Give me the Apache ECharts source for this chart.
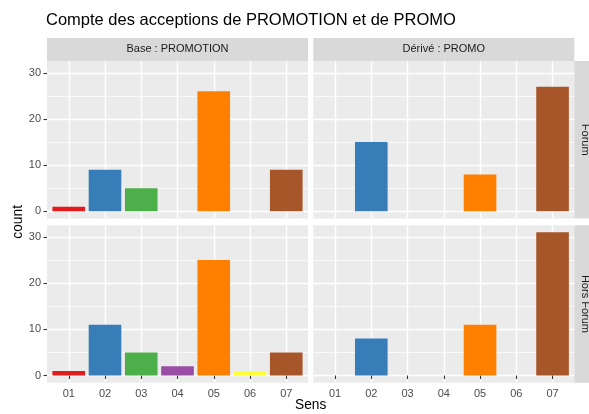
<!DOCTYPE html>
<html>
<head>
<meta charset="utf-8">
<script src="https://cdn.jsdelivr.net/npm/echarts@6/dist/echarts.min.js"></script>
<style>
  html, body { margin: 0; padding: 0; background: #fff; }
  #chart { width: 589px; height: 414px; }
</style>
</head>
<body>
<div id="chart"></div>
<script>
// data
var categories = ['01', '02', '03', '04', '05', '06', '07'];
var colTitles = ['Base : PROMOTION', 'Dérivé : PROMO'];
var rowTitles = ['Forum', 'Hors Forum'];
var baseForum = [1, 9, 5, null, 26, null, 9];
var deriveForum = [null, 15, null, null, 8, null, 27];
var baseHorsForum = [1, 11, 5, 2, 25, 1, 5];
var deriveHorsForum = [null, 8, null, null, 11, null, 31];
var yTicks = [0, 10, 20, 30];
var yMinor = [5, 15, 25];

// Set1 palette, one colour per sens
var palette = ['#E41A1C', '#377EB8', '#4DAF4A', '#984EA3', '#FF7F00', '#FFFF33', '#A65628'];

var FONT = 'Liberation Sans, Arial, sans-serif';

// layout (px)
var colLeft = [47, 313.3];
var panelW = 261;
var rowTop = [61, 225.2];
var panelH = 157.5;
var stripH = 23;
var stripTop = rowTop[0] - stripH;
var stripRightX = colLeft[1] + panelW;
var stripW = 23;

var panels = [
  { row: 0, col: 0, values: baseForum },
  { row: 0, col: 1, values: deriveForum },
  { row: 1, col: 0, values: baseHorsForum },
  { row: 1, col: 1, values: deriveHorsForum }
];

// ggplot style expansion
var allVals = [].concat(baseForum, deriveForum, baseHorsForum, deriveHorsForum).filter(function (v) { return v != null; });
var yMaxData = Math.max.apply(null, allVals);
var yPad = yMaxData * 0.05;
var yMin = -yPad, yMax = yMaxData + yPad;
var xMin = 1 - 0.6, xMax = categories.length + 0.6;

var grids = [], xAxes = [], yAxes = [], series = [];

panels.forEach(function (p, i) {
  grids.push({
    left: colLeft[p.col], top: rowTop[p.row], width: panelW, height: panelH,
    show: true, backgroundColor: '#EBEBEB', borderWidth: 0,
    outerBoundsMode: 'none', containLabel: false
  });

  var bottomRow = p.row === 1;
  xAxes.push({
    gridIndex: i, type: 'value', min: xMin, max: xMax, splitNumber: 7,
    axisLine: { show: false },
    axisTick: { show: bottomRow, length: 3.5, customValues: [1, 2, 3, 4, 5, 6, 7],
      lineStyle: { color: '#333333', width: 1.1 } },
    axisLabel: { show: bottomRow, customValues: [1, 2, 3, 4, 5, 6, 7], margin: 6,
      color: '#4D4D4D', fontSize: 11, fontFamily: FONT,
      formatter: function (v) { return Number.isInteger(v) ? categories[v - 1] : ''; } },
    splitLine: { show: true, lineStyle: { color: '#FFFFFF', width: 1.4 } }
  });

  var leftCol = p.col === 0;
  yAxes.push({
    gridIndex: i, type: 'value', min: yMin, max: yMax, splitNumber: 3,
    axisLine: { show: false },
    axisTick: { show: leftCol, length: 3.5, customValues: yTicks,
      lineStyle: { color: '#333333', width: 1.1 } },
    axisLabel: { show: leftCol, customValues: yTicks, margin: 6,
      color: '#4D4D4D', fontSize: 11, fontFamily: FONT,
      formatter: function (v) { return (v % 10 === 0) ? String(v) : ''; } },
    splitLine: { show: true, lineStyle: { color: '#FFFFFF', width: 1.4 } }
  });

  // every sens is present on the x scale so all panels share the same band
  var items = p.values.map(function (v, k) {
    return { value: [k + 1, v], itemStyle: { color: palette[k] } };
  });

  series.push({
    type: 'bar', xAxisIndex: i, yAxisIndex: i,
    barWidth: '90%', barCategoryGap: '0%',
    data: items, silent: true, z: 2,
    markLine: {
      silent: true, symbol: 'none', z: 1, animation: false,
      label: { show: false },
      lineStyle: { color: '#FFFFFF', width: 0.7, type: 'solid' },
      data: yMinor.map(function (m) { return { yAxis: m }; })
    }
  });
});

// facet strips and shared axis titles
var graphics = [];
colTitles.forEach(function (t, c) {
  graphics.push({
    type: 'rect', shape: { x: colLeft[c], y: stripTop, width: panelW, height: stripH },
    style: { fill: '#D9D9D9' }, silent: true
  });
  graphics.push({
    type: 'text', x: colLeft[c] + panelW / 2, y: stripTop + stripH / 2 - 0.7,
    style: { text: t, fill: '#1A1A1A', font: '11px ' + FONT, align: 'center', verticalAlign: 'middle' },
    silent: true
  });
});
rowTitles.forEach(function (t, r) {
  graphics.push({
    type: 'rect', shape: { x: stripRightX, y: rowTop[r], width: stripW, height: panelH },
    style: { fill: '#D9D9D9' }, silent: true
  });
  graphics.push({
    type: 'text', x: stripRightX + 10.5, y: rowTop[r] + panelH / 2, rotation: -Math.PI / 2,
    style: { text: t, fill: '#1A1A1A', font: '11px ' + FONT, align: 'center', verticalAlign: 'middle' },
    silent: true
  });
});
graphics.push({
  type: 'text', x: 18, y: (rowTop[0] + rowTop[1] + panelH) / 2, rotation: Math.PI / 2,
  style: { text: 'count', fill: '#000000', font: '13.75px ' + FONT, align: 'center', verticalAlign: 'middle' },
  silent: true
});
graphics.push({
  type: 'text', x: (colLeft[0] + colLeft[1] + panelW) / 2, y: 405,
  style: { text: 'Sens', fill: '#000000', font: '13.75px ' + FONT, align: 'center', verticalAlign: 'middle' },
  silent: true
});

var chart = echarts.init(document.getElementById('chart'), null, { renderer: 'canvas' });
chart.setOption({
  animation: false,
  backgroundColor: '#FFFFFF',
  title: {
    text: 'Compte des acceptions de PROMOTION et de PROMO',
    left: 41, top: 6.5,
    textStyle: { fontSize: 16.5, fontWeight: 'normal', color: '#000000', fontFamily: FONT }
  },
  grid: grids,
  xAxis: xAxes,
  yAxis: yAxes,
  series: series,
  graphic: graphics
});
</script>
</body>
</html>
